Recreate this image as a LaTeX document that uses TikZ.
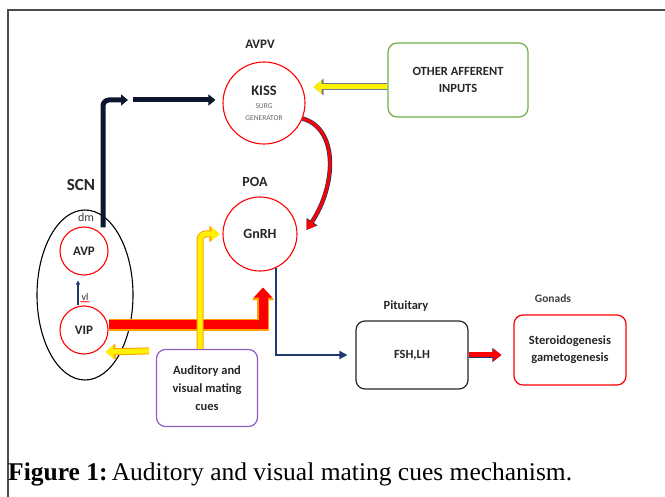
\documentclass[tikz,border=0pt]{standalone}
\usepackage{fontspec}
\setmainfont{Carlito}
\newfontfamily\capfont{Liberation Serif}
\usepackage{tikz}
\usetikzlibrary{positioning,arrows.meta,shapes.geometric,decorations.pathmorphing}
\definecolor{ink}{RGB}{38,38,38}
\definecolor{navy}{RGB}{31,56,110}
\definecolor{darkink}{RGB}{12,22,45}
\definecolor{boxgreen}{RGB}{112,173,71}
\definecolor{boxpurple}{RGB}{142,92,196}
\definecolor{rimorange}{RGB}{255,160,0}
\definecolor{rimgray}{RGB}{110,120,155}
\newcommand{\surg}[1]{\mdseries\fontsize{7.5}{9}\selectfont\textcolor{black!60}{#1}}
\tikzset{
  region/.style  ={draw=red, circle, line width=1.1pt, inner sep=0pt, align=center, text=ink, font=\bfseries\fontsize{13}{15}\selectfont},
  card/.style    ={draw, rectangle, rounded corners=9pt, line width=1.2pt, align=center, text=ink, font=\bfseries\fontsize{12.5}{17}\selectfont},
  lbl/.style     ={text=ink, font=\bfseries\fontsize{13}{15}\selectfont},
  yarr/.style    ={draw=yellow, line width=5pt, -{Triangle[length=8pt,width=13pt]},
                   preaction={draw=#1, line width=7pt, -{Triangle[length=10pt,width=16pt]}}},
  yarr/.default  =rimorange,
  redblk/.style  ={draw=red, line width=9pt, -{Triangle[length=10pt,width=18pt]},
                   preaction={draw=rimorange, line width=11.5pt, -{Triangle[length=12.5pt,width=21.5pt]}}},
  redsm/.style   ={draw=red, line width=5pt, -{Triangle[length=8pt,width=12pt]},
                   preaction={draw=navy, line width=6.4pt, -{Triangle[length=9pt,width=13.5pt]}}},
  curvearr/.style={draw=red, line width=3pt, -{Triangle[length=9pt,width=11pt]},
                   preaction={draw=navy, line width=4.4pt, -{Triangle[length=10pt,width=12.5pt]}}},
  darkarr/.style ={draw=darkink, line width=5pt, -{Triangle[length=7pt,width=11pt]}},
  navyarr/.style ={draw=navy, line width=2pt, -{Triangle[length=8pt,width=8pt]}},
  thinarr/.style ={draw=navy, line width=1.2pt, -{Triangle[length=4pt,width=4pt]}},
}
\begin{document}
\begin{tikzpicture}[x=1pt, y=-1pt]
  \useasboundingbox (0,0) rectangle (665,497);
  % page rule, left and top only
  \draw[line width=1.5pt, black!70] (8,497) -- (8,10) -- (665,10);

  % nuclei
  \node[region, minimum size=82pt, font=\bfseries\fontsize{14.5}{16}\selectfont] (kiss) at (264,103)
    {KISS\\[-3pt]\surg{SURG}\\[-4pt]\surg{GENERATOR}};
  \node[lbl, above=9pt of kiss, xshift=-4pt] (avpv) {AVPV};
  \node[region, minimum size=74pt, font=\bfseries\fontsize{14}{16}\selectfont] (gnrh) at (260,234) {GnRH};
  \node[lbl, above=6pt of gnrh, xshift=-5pt, font=\bfseries\fontsize{14}{16}\selectfont] (poa) {POA};

  % SCN with its two subdivisions
  \node[draw, ellipse, line width=1.1pt, minimum width=96pt, minimum height=170pt] (scn) at (85,295) {};
  \node[lbl, font=\bfseries\fontsize{17}{19}\selectfont] (scnlbl) at (81,185) {SCN};
  \node[text=black!75, font=\fontsize{12}{14}\selectfont] (dm) at (86,217) {dm};
  \node[region, minimum size=48pt] (avp) at (84,251) {AVP};
  \node[region, minimum size=48pt] (vip) at (84,330) {VIP};
  \node[text=ink, inner sep=1pt, font=\fontsize{10}{12}\selectfont] (vl) at (85,297) {vl};
  \draw[red, line width=0.5pt, decorate, decoration={snake, amplitude=0.5pt, segment length=2pt}]
    (vl.south west) -- (vl.south east);

  % boxes
  \node[card, draw=boxgreen, minimum width=140pt, minimum height=74pt] (other) at (458,80) {OTHER AFFERENT\\INPUTS};
  \node[card, draw=boxpurple, minimum width=101pt, minimum height=77pt, font=\bfseries\fontsize{12.5}{18}\selectfont] (cues) at (207,388)
    {Auditory and\\visual mating\\cues};
  \node[card, draw=black!85, minimum width=112pt, minimum height=68pt] (fsh) at (412,355) {FSH,LH};
  \node[lbl, font=\bfseries\fontsize{12.5}{15}\selectfont] (pit) at (406,306) {Pituitary};
  \node[card, draw=red, minimum width=112pt, minimum height=70pt] (gon) at (570,350) {Steroidogenesis\\gametogenesis};
  \node[lbl, text=black!75, font=\bfseries\fontsize{11.5}{14}\selectfont] (gonlbl) at (553,299) {Gonads};

  % connectors
  \coordinate (bend)  at (128,100);
  \coordinate (relay) at (133,100);
  \draw[darkarr, rounded corners=6pt] ([xshift=18pt,yshift=-18pt]scn.north) |- (bend);
  \draw[darkarr, shorten >=7pt] (relay) -- (relay -| kiss.west);
  \draw[yarr=rimgray, shorten >=8pt] ([yshift=-7pt]other.west) -- ([yshift=-7pt]other.west -| kiss.east);
  \draw[curvearr] (kiss.-22) .. controls +(36,10) and +(30,-45) .. ([xshift=9pt,yshift=4pt]gnrh.east);
  \draw[thinarr, shorten >=5pt] ([xshift=-6pt]vip.north) -- ([xshift=-6pt]avp.south);
  \draw[redblk] ([yshift=5pt]vip.east) -| ([xshift=3pt,yshift=-16pt]gnrh.south);
  \draw[yarr, rounded corners=6pt] ([xshift=-7pt]cues.north) |- ([xshift=-3pt]gnrh.west);
  \draw[yarr] ([xshift=-7pt,yshift=-2pt]cues.north west) -- ([xshift=-3pt,yshift=-22pt]vip.east);
  \draw[navyarr, shorten >=8pt] (gnrh.-64) |- (fsh.west);
  \draw[redsm, shorten >=12pt] (fsh.east) -- (gon.west |- fsh.east);

  % caption
  \node[anchor=base west, inner sep=0pt, text=black, font=\capfont\fontsize{25.5}{30}\selectfont] (caption) at (8,480)
    {\textbf{Figure 1:}\,Auditory and visual mating cues mechanism.};
\end{tikzpicture}
\end{document}
